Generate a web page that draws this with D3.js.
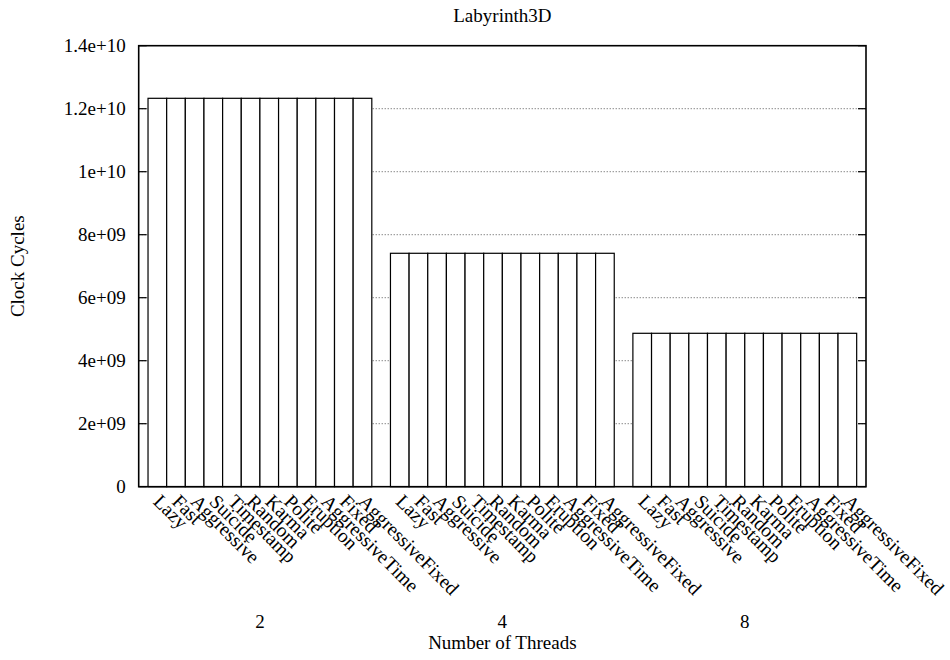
<!DOCTYPE html>
<html>
<head>
<meta charset="utf-8">
<script src="https://cdn.jsdelivr.net/npm/d3@7"></script>
<style>
	body { margin: 0; background: #fff; }
	text { font-family: "Liberation Serif", "DejaVu Serif", serif; fill: #000; }
</style>
</head>
<body>
<div id="chart"></div>
<script>
//Data
var threadCounts = ["2", "4", "8"];
var managers = ["Lazy", "Fast", "Aggressive", "Suicide", "Timestamp", "Random",
	"Karma", "Polite", "Eruption", "AggressiveTime", "Fixed", "AggressiveFixed"];
//clock cycles per manager, one array per thread count
var cycles2 = [1.233e10, 1.233e10, 1.233e10, 1.233e10, 1.233e10, 1.233e10,
	1.233e10, 1.233e10, 1.233e10, 1.233e10, 1.233e10, 1.233e10];
var cycles4 = [7.41e9, 7.41e9, 7.41e9, 7.41e9, 7.41e9, 7.41e9,
	7.41e9, 7.41e9, 7.41e9, 7.41e9, 7.41e9, 7.41e9];
var cycles8 = [4.87e9, 4.87e9, 4.87e9, 4.87e9, 4.87e9, 4.87e9,
	4.87e9, 4.87e9, 4.87e9, 4.87e9, 4.87e9, 4.87e9];
var yTicks = [0, 2e9, 4e9, 6e9, 8e9, 1e10, 1.2e10, 1.4e10];
var yTickLabels = ["0", "2e+09", "4e+09", "6e+09", "8e+09", "1e+10", "1.2e+10", "1.4e+10"];

var data = [cycles2, cycles4, cycles8].map(function(vals, i) {
	return { group: threadCounts[i], values: vals.map(function(v, j) { return { name: managers[j], value: v }; }) };
});

///////////////////////////////////////////////////////////////////////////
//////////////////////////// Set up the svg ///////////////////////////////
///////////////////////////////////////////////////////////////////////////

var W = 950, H = 660;
var margin = { top: 45.7, right: 84, bottom: 173.3, left: 138.7 };
var width = W - margin.left - margin.right,
	height = H - margin.top - margin.bottom;

var svg = d3.select("#chart").append("svg")
	.attr("width", W)
	.attr("height", H);

var g = svg.append("g")
	.attr("transform", "translate(" + margin.left + "," + margin.top + ")");

//one empty slot between clusters, half a slot at each end
var x0 = d3.scaleBand()
	.domain(threadCounts)
	.range([0, width])
	.paddingInner(1 / 13)
	.paddingOuter(0.5 / 13);

var x1 = d3.scaleBand()
	.domain(managers)
	.range([0, x0.bandwidth()]);

var y = d3.scaleLinear()
	.domain([0, 1.4e10])
	.range([height, 0]);

//dotted grid
g.append("g").selectAll("line")
	.data(yTicks.slice(1, -1))
	.enter().append("line")
	.attr("x1", 0).attr("x2", width)
	.attr("y1", function(d) { return y(d); })
	.attr("y2", function(d) { return y(d); })
	.style("stroke", "#555")
	.style("stroke-width", 1)
	.style("stroke-dasharray", "1,2");

//bars
var groups = g.selectAll(".cluster")
	.data(data)
	.enter().append("g")
	.attr("class", "cluster")
	.attr("transform", function(d) { return "translate(" + x0(d.group) + ",0)"; });

groups.selectAll("rect")
	.data(function(d) { return d.values; })
	.enter().append("rect")
	.attr("x", function(d) { return x1(d.name); })
	.attr("width", x1.bandwidth())
	.attr("y", function(d) { return y(d.value); })
	.attr("height", function(d) { return height - y(d.value); })
	.style("fill", "#fff")
	.style("stroke", "#000")
	.style("stroke-width", 1.2);

//rotated manager names
groups.selectAll(".name")
	.data(function(d) { return d.values; })
	.enter().append("text")
	.attr("class", "name")
	.attr("transform", function(d) {
		return "translate(" + (x1(d.name) + x1.bandwidth() / 2 - 5) + "," + (height + 16) + ") rotate(45)";
	})
	.style("font-size", "19.5px")
	.text(function(d) { return d.name; });

//y axis, ticks inward on both sides
var yAxis = g.append("g");
yAxis.selectAll(".tl")
	.data(yTicks)
	.enter().append("line")
	.attr("x1", 0).attr("x2", 8)
	.attr("y1", function(d) { return y(d); })
	.attr("y2", function(d) { return y(d); })
	.style("stroke", "#000").style("stroke-width", 1.2);
yAxis.selectAll(".tr")
	.data(yTicks)
	.enter().append("line")
	.attr("x1", width - 8).attr("x2", width)
	.attr("y1", function(d) { return y(d); })
	.attr("y2", function(d) { return y(d); })
	.style("stroke", "#000").style("stroke-width", 1.2);
yAxis.selectAll("text")
	.data(yTicks)
	.enter().append("text")
	.attr("x", -13)
	.attr("y", function(d) { return y(d); })
	.attr("dy", "0.35em")
	.attr("text-anchor", "end")
	.style("font-size", "19px")
	.text(function(d, i) { return yTickLabels[i]; });

//frame
g.append("rect")
	.attr("width", width)
	.attr("height", height)
	.style("fill", "none")
	.style("stroke", "#000")
	.style("stroke-width", 1.6);

//group labels
g.selectAll(".grp")
	.data(threadCounts)
	.enter().append("text")
	.attr("class", "grp")
	.attr("x", function(d) { return x0(d) + x0.bandwidth() / 2; })
	.attr("y", 628 - margin.top)
	.attr("text-anchor", "middle")
	.style("font-size", "19px")
	.text(function(d) { return d; });

//titles
svg.append("text")
	.attr("x", margin.left + width / 2)
	.attr("y", 22)
	.attr("text-anchor", "middle")
	.style("font-size", "19px")
	.text("Labyrinth3D");

svg.append("text")
	.attr("x", margin.left + width / 2)
	.attr("y", 649)
	.attr("text-anchor", "middle")
	.style("font-size", "19px")
	.text("Number of Threads");

svg.append("text")
	.attr("transform", "translate(24," + (margin.top + height / 2) + ") rotate(-90)")
	.attr("text-anchor", "middle")
	.style("font-size", "19px")
	.text("Clock Cycles");
</script>
</body>
</html>
